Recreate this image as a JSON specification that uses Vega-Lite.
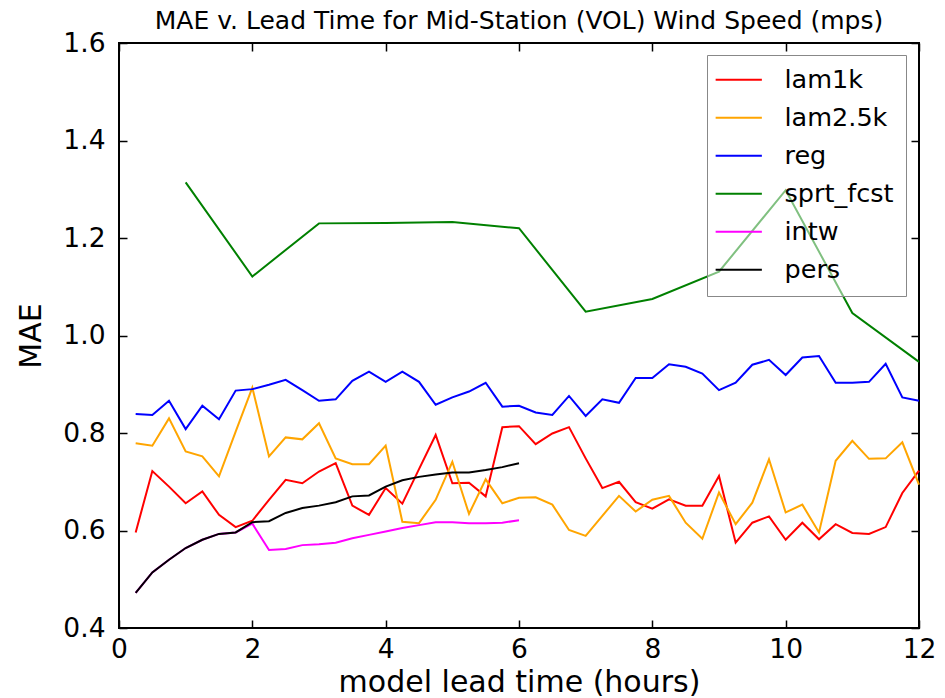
{
  "$schema": "https://vega.github.io/schema/vega-lite/v6.json",
  "width": 800,
  "height": 585,
  "autosize": {"type": "none"},
  "padding": {"left": 119, "top": 43, "right": 26, "bottom": 70},
  "background": "white",
  "title": {"text": "MAE v. Lead Time for Mid-Station (VOL) Wind Speed (mps)", "font": "DejaVu Sans", "fontSize": 25, "fontWeight": "normal", "color": "black", "anchor": "middle", "offset": -4},
  "config": {
    "view": {"stroke": "black", "strokeWidth": 2},
    "axis": {"labelFont": "DejaVu Sans", "labelFontSize": 26.5, "labelColor": "black", "labelFlush": false, "titleFont": "DejaVu Sans", "titleFontSize": 30, "titleFontWeight": "normal", "titleColor": "black", "tickColor": "black", "tickWidth": 1.5, "tickSize": -8, "grid": false, "domain": false}
  },
  "data": {"values": [
    {"lead": 0.25, "model": "lam1k", "mae": 0.596}, {"lead": 0.5, "model": "lam1k", "mae": 0.722}, {"lead": 0.75, "model": "lam1k", "mae": 0.690}, {"lead": 1.0, "model": "lam1k", "mae": 0.656},
    {"lead": 1.25, "model": "lam1k", "mae": 0.680}, {"lead": 1.5, "model": "lam1k", "mae": 0.632}, {"lead": 1.75, "model": "lam1k", "mae": 0.607}, {"lead": 2.0, "model": "lam1k", "mae": 0.620},
    {"lead": 2.25, "model": "lam1k", "mae": 0.663}, {"lead": 2.5, "model": "lam1k", "mae": 0.704}, {"lead": 2.75, "model": "lam1k", "mae": 0.697}, {"lead": 3.0, "model": "lam1k", "mae": 0.721},
    {"lead": 3.25, "model": "lam1k", "mae": 0.738}, {"lead": 3.5, "model": "lam1k", "mae": 0.651}, {"lead": 3.75, "model": "lam1k", "mae": 0.632}, {"lead": 4.0, "model": "lam1k", "mae": 0.687},
    {"lead": 4.25, "model": "lam1k", "mae": 0.655}, {"lead": 4.5, "model": "lam1k", "mae": 0.726}, {"lead": 4.75, "model": "lam1k", "mae": 0.796}, {"lead": 5.0, "model": "lam1k", "mae": 0.697},
    {"lead": 5.25, "model": "lam1k", "mae": 0.698}, {"lead": 5.5, "model": "lam1k", "mae": 0.670}, {"lead": 5.75, "model": "lam1k", "mae": 0.812}, {"lead": 6.0, "model": "lam1k", "mae": 0.814},
    {"lead": 6.25, "model": "lam1k", "mae": 0.777}, {"lead": 6.5, "model": "lam1k", "mae": 0.799}, {"lead": 6.75, "model": "lam1k", "mae": 0.812}, {"lead": 7.0, "model": "lam1k", "mae": 0.748},
    {"lead": 7.25, "model": "lam1k", "mae": 0.687}, {"lead": 7.5, "model": "lam1k", "mae": 0.700}, {"lead": 7.75, "model": "lam1k", "mae": 0.658}, {"lead": 8.0, "model": "lam1k", "mae": 0.645},
    {"lead": 8.25, "model": "lam1k", "mae": 0.664}, {"lead": 8.5, "model": "lam1k", "mae": 0.651}, {"lead": 8.75, "model": "lam1k", "mae": 0.651}, {"lead": 9.0, "model": "lam1k", "mae": 0.712},
    {"lead": 9.25, "model": "lam1k", "mae": 0.575}, {"lead": 9.5, "model": "lam1k", "mae": 0.616}, {"lead": 9.75, "model": "lam1k", "mae": 0.629}, {"lead": 10.0, "model": "lam1k", "mae": 0.581},
    {"lead": 10.25, "model": "lam1k", "mae": 0.616}, {"lead": 10.5, "model": "lam1k", "mae": 0.582}, {"lead": 10.75, "model": "lam1k", "mae": 0.613}, {"lead": 11.0, "model": "lam1k", "mae": 0.595},
    {"lead": 11.25, "model": "lam1k", "mae": 0.593}, {"lead": 11.5, "model": "lam1k", "mae": 0.607}, {"lead": 11.75, "model": "lam1k", "mae": 0.677}, {"lead": 12.0, "model": "lam1k", "mae": 0.723},

    {"lead": 0.25, "model": "lam2.5k", "mae": 0.779}, {"lead": 0.5, "model": "lam2.5k", "mae": 0.774}, {"lead": 0.75, "model": "lam2.5k", "mae": 0.830}, {"lead": 1.0, "model": "lam2.5k", "mae": 0.762},
    {"lead": 1.25, "model": "lam2.5k", "mae": 0.752}, {"lead": 1.5, "model": "lam2.5k", "mae": 0.711}, {"lead": 1.75, "model": "lam2.5k", "mae": 0.803}, {"lead": 2.0, "model": "lam2.5k", "mae": 0.893},
    {"lead": 2.25, "model": "lam2.5k", "mae": 0.752}, {"lead": 2.5, "model": "lam2.5k", "mae": 0.791}, {"lead": 2.75, "model": "lam2.5k", "mae": 0.787}, {"lead": 3.0, "model": "lam2.5k", "mae": 0.820},
    {"lead": 3.25, "model": "lam2.5k", "mae": 0.748}, {"lead": 3.5, "model": "lam2.5k", "mae": 0.736}, {"lead": 3.75, "model": "lam2.5k", "mae": 0.736}, {"lead": 4.0, "model": "lam2.5k", "mae": 0.774},
    {"lead": 4.25, "model": "lam2.5k", "mae": 0.618}, {"lead": 4.5, "model": "lam2.5k", "mae": 0.615}, {"lead": 4.75, "model": "lam2.5k", "mae": 0.663}, {"lead": 5.0, "model": "lam2.5k", "mae": 0.741},
    {"lead": 5.25, "model": "lam2.5k", "mae": 0.634}, {"lead": 5.5, "model": "lam2.5k", "mae": 0.705}, {"lead": 5.75, "model": "lam2.5k", "mae": 0.656}, {"lead": 6.0, "model": "lam2.5k", "mae": 0.667},
    {"lead": 6.25, "model": "lam2.5k", "mae": 0.668}, {"lead": 6.5, "model": "lam2.5k", "mae": 0.653}, {"lead": 6.75, "model": "lam2.5k", "mae": 0.601}, {"lead": 7.0, "model": "lam2.5k", "mae": 0.589},
    {"lead": 7.25, "model": "lam2.5k", "mae": 0.630}, {"lead": 7.5, "model": "lam2.5k", "mae": 0.671}, {"lead": 7.75, "model": "lam2.5k", "mae": 0.639}, {"lead": 8.0, "model": "lam2.5k", "mae": 0.663},
    {"lead": 8.25, "model": "lam2.5k", "mae": 0.671}, {"lead": 8.5, "model": "lam2.5k", "mae": 0.616}, {"lead": 8.75, "model": "lam2.5k", "mae": 0.583}, {"lead": 9.0, "model": "lam2.5k", "mae": 0.678},
    {"lead": 9.25, "model": "lam2.5k", "mae": 0.613}, {"lead": 9.5, "model": "lam2.5k", "mae": 0.657}, {"lead": 9.75, "model": "lam2.5k", "mae": 0.746}, {"lead": 10.0, "model": "lam2.5k", "mae": 0.637},
    {"lead": 10.25, "model": "lam2.5k", "mae": 0.653}, {"lead": 10.5, "model": "lam2.5k", "mae": 0.596}, {"lead": 10.75, "model": "lam2.5k", "mae": 0.743}, {"lead": 11.0, "model": "lam2.5k", "mae": 0.784},
    {"lead": 11.25, "model": "lam2.5k", "mae": 0.747}, {"lead": 11.5, "model": "lam2.5k", "mae": 0.748}, {"lead": 11.75, "model": "lam2.5k", "mae": 0.781}, {"lead": 12.0, "model": "lam2.5k", "mae": 0.694},

    {"lead": 0.25, "model": "reg", "mae": 0.839}, {"lead": 0.5, "model": "reg", "mae": 0.837}, {"lead": 0.75, "model": "reg", "mae": 0.866}, {"lead": 1.0, "model": "reg", "mae": 0.808},
    {"lead": 1.25, "model": "reg", "mae": 0.856}, {"lead": 1.5, "model": "reg", "mae": 0.828}, {"lead": 1.75, "model": "reg", "mae": 0.887}, {"lead": 2.0, "model": "reg", "mae": 0.890},
    {"lead": 2.25, "model": "reg", "mae": 0.899}, {"lead": 2.5, "model": "reg", "mae": 0.909}, {"lead": 2.75, "model": "reg", "mae": 0.888}, {"lead": 3.0, "model": "reg", "mae": 0.866},
    {"lead": 3.25, "model": "reg", "mae": 0.869}, {"lead": 3.5, "model": "reg", "mae": 0.907}, {"lead": 3.75, "model": "reg", "mae": 0.926}, {"lead": 4.0, "model": "reg", "mae": 0.905},
    {"lead": 4.25, "model": "reg", "mae": 0.926}, {"lead": 4.5, "model": "reg", "mae": 0.905}, {"lead": 4.75, "model": "reg", "mae": 0.858}, {"lead": 5.0, "model": "reg", "mae": 0.873},
    {"lead": 5.25, "model": "reg", "mae": 0.885}, {"lead": 5.5, "model": "reg", "mae": 0.903}, {"lead": 5.75, "model": "reg", "mae": 0.854}, {"lead": 6.0, "model": "reg", "mae": 0.856},
    {"lead": 6.25, "model": "reg", "mae": 0.842}, {"lead": 6.5, "model": "reg", "mae": 0.837}, {"lead": 6.75, "model": "reg", "mae": 0.876}, {"lead": 7.0, "model": "reg", "mae": 0.835},
    {"lead": 7.25, "model": "reg", "mae": 0.869}, {"lead": 7.5, "model": "reg", "mae": 0.862}, {"lead": 7.75, "model": "reg", "mae": 0.913}, {"lead": 8.0, "model": "reg", "mae": 0.913},
    {"lead": 8.25, "model": "reg", "mae": 0.941}, {"lead": 8.5, "model": "reg", "mae": 0.936}, {"lead": 8.75, "model": "reg", "mae": 0.922}, {"lead": 9.0, "model": "reg", "mae": 0.888},
    {"lead": 9.25, "model": "reg", "mae": 0.903}, {"lead": 9.5, "model": "reg", "mae": 0.940}, {"lead": 9.75, "model": "reg", "mae": 0.950}, {"lead": 10.0, "model": "reg", "mae": 0.919},
    {"lead": 10.25, "model": "reg", "mae": 0.955}, {"lead": 10.5, "model": "reg", "mae": 0.958}, {"lead": 10.75, "model": "reg", "mae": 0.903}, {"lead": 11.0, "model": "reg", "mae": 0.903},
    {"lead": 11.25, "model": "reg", "mae": 0.905}, {"lead": 11.5, "model": "reg", "mae": 0.942}, {"lead": 11.75, "model": "reg", "mae": 0.873}, {"lead": 12.0, "model": "reg", "mae": 0.866},

    {"lead": 1, "model": "sprt_fcst", "mae": 1.314}, {"lead": 2, "model": "sprt_fcst", "mae": 1.121}, {"lead": 3, "model": "sprt_fcst", "mae": 1.230}, {"lead": 4, "model": "sprt_fcst", "mae": 1.231},
    {"lead": 5, "model": "sprt_fcst", "mae": 1.233}, {"lead": 6, "model": "sprt_fcst", "mae": 1.220}, {"lead": 7, "model": "sprt_fcst", "mae": 1.049}, {"lead": 8, "model": "sprt_fcst", "mae": 1.075},
    {"lead": 9, "model": "sprt_fcst", "mae": 1.131}, {"lead": 10, "model": "sprt_fcst", "mae": 1.298}, {"lead": 11, "model": "sprt_fcst", "mae": 1.046}, {"lead": 12, "model": "sprt_fcst", "mae": 0.946},

    {"lead": 0.25, "model": "intw", "mae": 0.472}, {"lead": 0.5, "model": "intw", "mae": 0.514}, {"lead": 0.75, "model": "intw", "mae": 0.540}, {"lead": 1.0, "model": "intw", "mae": 0.564},
    {"lead": 1.25, "model": "intw", "mae": 0.581}, {"lead": 1.5, "model": "intw", "mae": 0.593}, {"lead": 1.75, "model": "intw", "mae": 0.596}, {"lead": 2.0, "model": "intw", "mae": 0.614},
    {"lead": 2.25, "model": "intw", "mae": 0.560}, {"lead": 2.5, "model": "intw", "mae": 0.562}, {"lead": 2.75, "model": "intw", "mae": 0.570}, {"lead": 3.0, "model": "intw", "mae": 0.572},
    {"lead": 3.25, "model": "intw", "mae": 0.575}, {"lead": 3.5, "model": "intw", "mae": 0.584}, {"lead": 3.75, "model": "intw", "mae": 0.591}, {"lead": 4.0, "model": "intw", "mae": 0.598},
    {"lead": 4.25, "model": "intw", "mae": 0.605}, {"lead": 4.5, "model": "intw", "mae": 0.611}, {"lead": 4.75, "model": "intw", "mae": 0.617}, {"lead": 5.0, "model": "intw", "mae": 0.617},
    {"lead": 5.25, "model": "intw", "mae": 0.615}, {"lead": 5.5, "model": "intw", "mae": 0.615}, {"lead": 5.75, "model": "intw", "mae": 0.616}, {"lead": 6.0, "model": "intw", "mae": 0.621},

    {"lead": 0.25, "model": "pers", "mae": 0.472}, {"lead": 0.5, "model": "pers", "mae": 0.514}, {"lead": 0.75, "model": "pers", "mae": 0.540}, {"lead": 1.0, "model": "pers", "mae": 0.564},
    {"lead": 1.25, "model": "pers", "mae": 0.581}, {"lead": 1.5, "model": "pers", "mae": 0.593}, {"lead": 1.75, "model": "pers", "mae": 0.596}, {"lead": 2.0, "model": "pers", "mae": 0.617},
    {"lead": 2.25, "model": "pers", "mae": 0.619}, {"lead": 2.5, "model": "pers", "mae": 0.636}, {"lead": 2.75, "model": "pers", "mae": 0.646}, {"lead": 3.0, "model": "pers", "mae": 0.651},
    {"lead": 3.25, "model": "pers", "mae": 0.658}, {"lead": 3.5, "model": "pers", "mae": 0.670}, {"lead": 3.75, "model": "pers", "mae": 0.672}, {"lead": 4.0, "model": "pers", "mae": 0.690},
    {"lead": 4.25, "model": "pers", "mae": 0.703}, {"lead": 4.5, "model": "pers", "mae": 0.710}, {"lead": 4.75, "model": "pers", "mae": 0.715}, {"lead": 5.0, "model": "pers", "mae": 0.719},
    {"lead": 5.25, "model": "pers", "mae": 0.719}, {"lead": 5.5, "model": "pers", "mae": 0.724}, {"lead": 5.75, "model": "pers", "mae": 0.730}, {"lead": 6.0, "model": "pers", "mae": 0.738}
  ]},
  "layer": [
    {
      "mark": {"type": "line", "strokeWidth": 2},
      "encoding": {
        "x": {"field": "lead", "type": "quantitative", "scale": {"domain": [0, 12], "nice": false, "zero": false},
              "axis": {"orient": "bottom", "values": [0, 2, 4, 6, 8, 10, 12], "format": "d", "title": "model lead time (hours)", "labelPadding": 16, "titlePadding": 5}},
        "y": {"field": "mae", "type": "quantitative", "scale": {"domain": [0.4, 1.6], "nice": false, "zero": false},
              "axis": {"orient": "left", "values": [0.4, 0.6, 0.8, 1.0, 1.2, 1.4, 1.6], "format": ".1f", "title": "MAE", "labelPadding": 22, "titlePadding": 16}},
        "color": {"field": "model", "type": "nominal",
                  "scale": {"domain": ["lam1k", "lam2.5k", "reg", "sprt_fcst", "intw", "pers"], "range": ["#ff0000", "#ffa500", "#0000ff", "#008000", "#ff00ff", "#000000"]},
                  "legend": {"title": null, "orient": "none", "legendX": 588, "legendY": 12, "padding": 12, "symbolOffset": 7,
                             "labelFont": "DejaVu Sans", "labelFontSize": 25.5, "labelColor": "black", "labelOffset": 33,
                             "symbolType": "M-2.5,0L2.5,0", "symbolSize": 342, "symbolStrokeWidth": 2, "rowPadding": 11,
                             "strokeColor": "#888888", "fillColor": "rgba(255,255,255,0.5)", "cornerRadius": 0}}
      }
    },
    {
      "mark": {"type": "line", "opacity": 0},
      "encoding": {
        "x": {"field": "lead", "type": "quantitative", "axis": {"orient": "top", "values": [0, 2, 4, 6, 8, 10, 12], "labels": false, "title": null}},
        "y": {"field": "mae", "type": "quantitative", "axis": {"orient": "right", "values": [0.4, 0.6, 0.8, 1.0, 1.2, 1.4, 1.6], "labels": false, "title": null}}
      }
    }
  ]
}
